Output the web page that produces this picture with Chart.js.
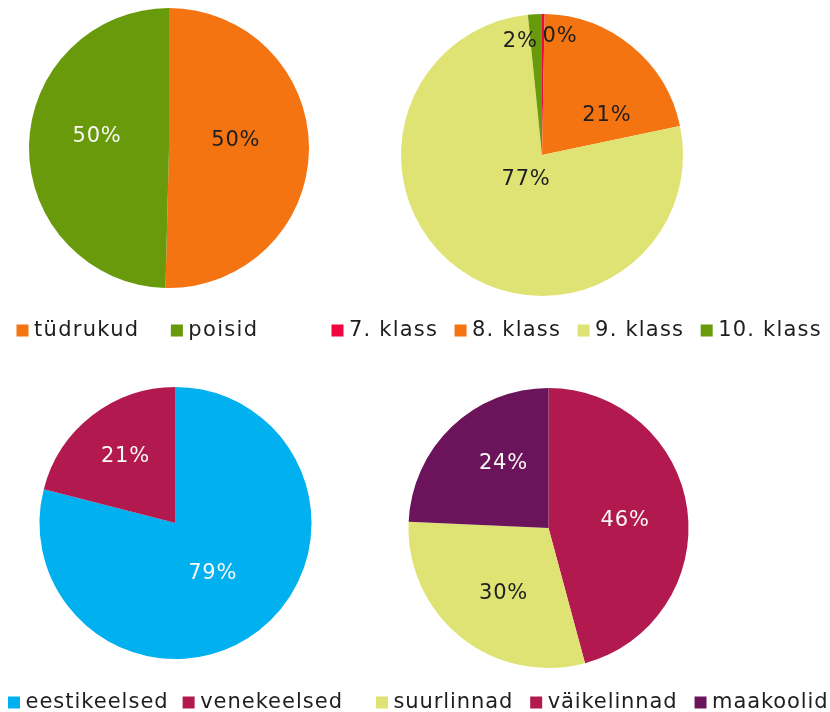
<!DOCTYPE html>
<html lang="et">
<head>
<meta charset="utf-8">
<title>Õpilaste jaotus</title>
<script src="https://cdn.jsdelivr.net/npm/chart.js@4"></script>
<style>
  html, body { margin: 0; padding: 0; background: #fff; overflow: hidden; }
  #leht { position: relative; width: 830px; height: 712px; overflow: hidden; }
  .pirukas { position: absolute; }
</style>
</head>
<body>
<div id="leht">
  <canvas id="sugu" class="pirukas"></canvas>
  <canvas id="klass" class="pirukas"></canvas>
  <canvas id="keel" class="pirukas"></canvas>
  <canvas id="asukoht" class="pirukas"></canvas>
</div>
<script>
// Andmed (protsendid, päripäeva alates kella 12 suunast)
const suguNimed = ['tüdrukud', 'poisid'];
const suguOsa = [50.4, 49.6];

const klassNimed = ['7. klass', '8. klass', '9. klass', '10. klass'];
const klassOsa = [0.3, 21.4, 76.7, 1.6];

const keelNimed = ['eestikeelsed', 'venekeelsed'];
const keelOsa = [79, 21];

// joonisel päripäeva: väikelinnad, suurlinnad, maakoolid - legendis teises järjekorras
const asukohtNimed = ['väikelinnad', 'suurlinnad', 'maakoolid'];
const asukohtOsa = [45.8, 29.9, 24.3];
const asukohtLegend = ['suurlinnad', 'väikelinnad', 'maakoolid'];

// Värvid
const ORANZ = '#F47412';
const ROHE = '#689A0B';
const KOLLANE = '#DFE373';
const PUNANE = '#F0073F';
const SININE = '#00B0EF';
const VAARIKAS = '#B2194F';
const LILLA = '#6B145B';
const TUME = '#1e1e1e';
const VALGE = '#f8f8f4';

// Siltide asukoht: [raadiuse osa, nihe kraadides, värv]
const suguSildid = [[0.48, -6.7, TUME], [0.52, 8, VALGE]];
const klassSildid = [[0.85, 8.1, TUME], [0.54, 18.8, TUME], [0.21, -3.6, TUME], [0.82, -8, TUME]];
const keelSildid = [[0.46, 1.3, VALGE], [0.61, 0.7, VALGE]];
const asukohtSildid = [[0.55, 1.7, VALGE], [0.57, -4.4, TUME], [0.56, 8.7, VALGE]];

Chart.defaults.font.family = "'DejaVu Sans', Verdana, sans-serif";
Chart.defaults.font.size = 21;
Chart.defaults.color = '#1e1e1e';

// pirukas paigaldatakse täpselt etteantud kohta, legend jääb alla
const pirukaKoht = {
    id: 'pirukaKoht',
    beforeLayout(chart, args, opts) {
        chart.ctx.letterSpacing = opts.ls + 'px';
    },
    afterLayout(chart, args, opts) {
        const a = chart.chartArea;
        a.left = opts.cx - opts.r;
        a.right = opts.cx + opts.r;
        a.top = opts.cy - opts.r;
        a.bottom = opts.cy + opts.r;
        a.width = opts.r * 2;
        a.height = opts.r * 2;
    },
    beforeDraw(chart, args, opts) {
        chart.ctx.letterSpacing = opts.ls + 'px';
    }
};

// protsendisildid viilude peale
const protsendid = {
    id: 'protsendid',
    afterDatasetsDraw(chart, args, opts) {
        const ctx = chart.ctx;
        const andmed = chart.data.datasets[0].data;
        const kokku = andmed.reduce((s, v) => s + v, 0);
        const meta = chart.getDatasetMeta(0);
        ctx.save();
        ctx.letterSpacing = '0.8px';
        ctx.font = "21px 'DejaVu Sans', Verdana, sans-serif";
        ctx.textAlign = 'center';
        ctx.textBaseline = 'middle';
        meta.data.forEach((kaar, i) => {
            const p = kaar.getProps(['x', 'y', 'startAngle', 'endAngle', 'outerRadius'], true);
            const [osa, nihe, varv] = opts.sildid[i];
            const nurk = (p.startAngle + p.endAngle) / 2 + nihe * Math.PI / 180;
            const kaugus = osa * p.outerRadius;
            ctx.fillStyle = varv;
            ctx.fillText(Math.round(andmed[i] / kokku * 100) + '%',
                p.x + Math.cos(nurk) * kaugus, p.y + Math.sin(nurk) * kaugus);
        });
        ctx.restore();
    }
};

function teePirukas(id, koht, nimed, osad, varvid, sildid, legendiJarjekord) {
    const el = document.getElementById(id);
    el.width = koht.w;
    el.height = koht.h;
    el.style.left = koht.left + 'px';
    el.style.top = koht.top + 'px';

    // kitsas boxWidth + ruudukujuline pointStyle -> ruut on tekstile lähemal
    const legendLabels = {
        usePointStyle: true,
        pointStyle: 'rect',
        boxWidth: 2,
        boxHeight: 12,
        padding: koht.pad,
        color: '#1e1e1e',
        font: { size: 21 }
    };
    if (legendiJarjekord) {
        legendLabels.sort = (a, b) => legendiJarjekord.indexOf(a.text) - legendiJarjekord.indexOf(b.text);
    }

    return new Chart(el, {
        type: 'pie',
        data: {
            labels: nimed,
            datasets: [{
                data: osad,
                backgroundColor: varvid,
                borderWidth: 0
            }]
        },
        options: {
            responsive: false,
            animation: false,
            events: [],
            layout: { padding: 0 },
            plugins: {
                legend: {
                    position: 'bottom',
                    align: 'start',
                    labels: legendLabels
                },
                tooltip: { enabled: false },
                pirukaKoht: { cx: koht.cx - koht.left, cy: koht.cy - koht.top, r: koht.r, ls: koht.ls },
                protsendid: { sildid: sildid }
            }
        },
        plugins: [pirukaKoht, protsendid]
    });
}

teePirukas('sugu', { left: -15, top: 0, w: 330, h: 351, cx: 169, cy: 148, r: 140, pad: 36.5, ls: 1.3 },
    suguNimed, suguOsa, [ORANZ, ROHE], suguSildid);

teePirukas('klass', { left: 315, top: 0, w: 540, h: 351, cx: 542, cy: 155, r: 141, pad: 21.5, ls: 1.2 },
    klassNimed, klassOsa, [PUNANE, ORANZ, KOLLANE, ROHE], klassSildid);

teePirukas('keel', { left: -6.5, top: 380, w: 400, h: 343, cx: 175, cy: 523, r: 136, pad: 19, ls: 1.0 },
    keelNimed, keelOsa, [SININE, VAARIKAS], keelSildid);

teePirukas('asukoht', { left: 358.5, top: 380, w: 500, h: 343, cx: 548, cy: 528, r: 140, pad: 22, ls: 0.9 },
    asukohtNimed, asukohtOsa, [VAARIKAS, KOLLANE, LILLA], asukohtSildid, asukohtLegend);
</script>
</body>
</html>
